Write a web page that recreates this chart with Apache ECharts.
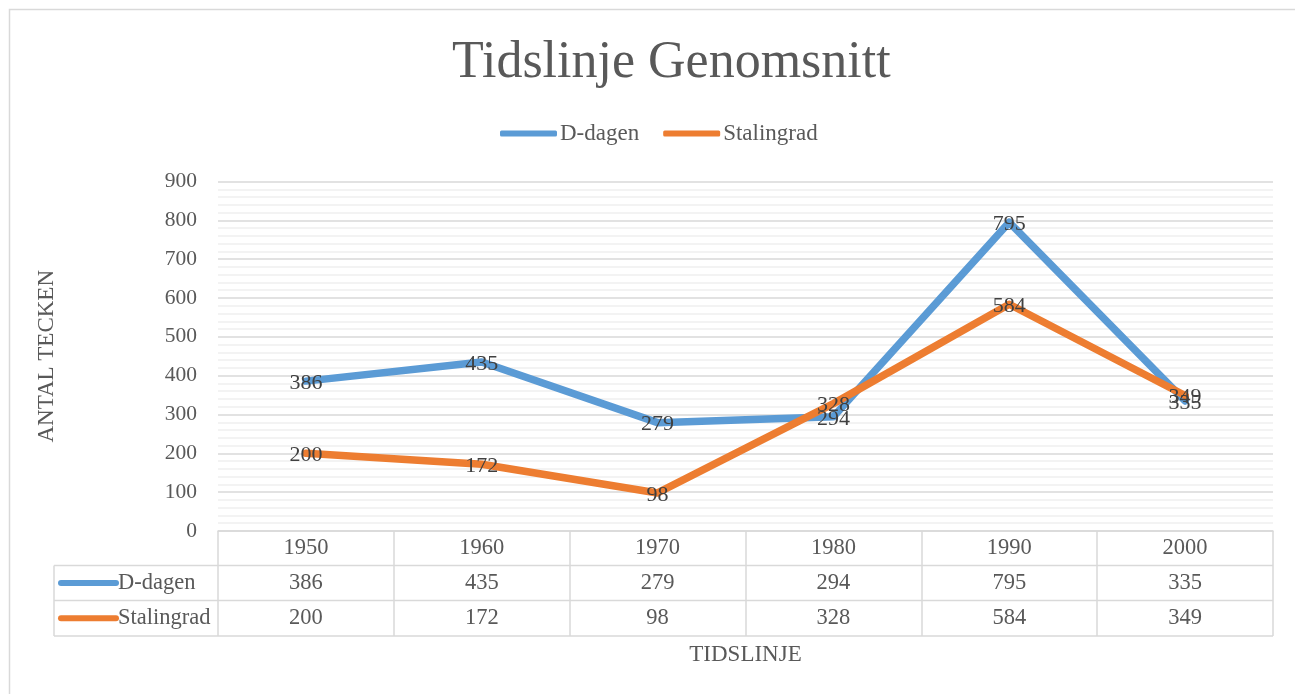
<!DOCTYPE html>
<html>
<head>
<meta charset="utf-8">
<script src="https://cdn.jsdelivr.net/npm/echarts@6/dist/echarts.min.js"></script>
<style>
  html, body { margin: 0; padding: 0; background: #fff; }
  #main { width: 1295px; height: 694px; }
</style>
</head>
<body>
<div id="main"></div>
<script>
// data
const years = ['1950', '1960', '1970', '1980', '1990', '2000'];
const seriesNames = ['D-dagen', 'Stalingrad'];
const dDagen = [386, 435, 279, 294, 795, 335];
const stalingrad = [200, 172, 98, 328, 584, 349];
const colors = ['#5b9bd5', '#ed7d31'];

const font = 'Liberation Serif';
const txt = '#595959';
const border = '#d9d9d9';

let myChart = echarts.init(document.querySelector('#main'));

function makeSeries(name, values, color) {
    return {
        name: name,
        type: 'line',
        data: values,
        symbol: 'circle',
        symbolSize: 1,
        itemStyle: { color: color },
        lineStyle: { width: 7.5, color: color, cap: 'round', join: 'round' },
        label: {
            show: true,
            position: 'inside',
            offset: [0, 2],
            fontFamily: font,
            fontSize: 22,
            color: '#404040'
        },
        emphasis: { disabled: true },
        z: 3
    };
}

// table row lines and row keys
const tableLeft = 54, tableRight = 1273, plotLeft = 218;
const rowY = [531, 565.5, 600.5, 636];
let graphics = [
    { type: 'rect', shape: { x: 9.5, y: 9.5, width: 1300, height: 700 }, style: { fill: null, stroke: border, lineWidth: 1.5 }, silent: true },
    { type: 'line', shape: { x1: tableLeft, y1: rowY[1], x2: tableRight, y2: rowY[1] }, style: { stroke: border, lineWidth: 1.5 } },
    { type: 'line', shape: { x1: tableLeft, y1: rowY[2], x2: tableRight, y2: rowY[2] }, style: { stroke: border, lineWidth: 1.5 } },
    { type: 'line', shape: { x1: tableLeft, y1: rowY[3], x2: tableRight, y2: rowY[3] }, style: { stroke: border, lineWidth: 1.5 } },
    { type: 'line', shape: { x1: tableLeft, y1: rowY[1], x2: tableLeft, y2: rowY[3] }, style: { stroke: border, lineWidth: 1.5 } }
];
seriesNames.forEach(function (name, i) {
    let cy = (rowY[i + 1] + rowY[i + 2]) / 2;
    graphics.push({ type: 'line', shape: { x1: 61, y1: cy, x2: 116, y2: cy }, style: { stroke: colors[i], lineWidth: 6, lineCap: 'round' } });
    graphics.push({ type: 'text', x: 118, y: cy, style: { text: name, fontFamily: font, fontSize: 22.5, fill: txt, verticalAlign: 'middle' } });
});

let option = {
    backgroundColor: '#fff',
    animation: false,
    title: {
        text: 'Tidslinje Genomsnitt',
        left: 447,
        top: 32,
        textStyle: { fontFamily: font, fontSize: 52, fontWeight: 'normal', color: txt }
    },
    legend: {
        data: seriesNames,
        top: 117,
        left: 495,
        icon: 'roundRect',
        itemWidth: 57,
        itemHeight: 6,
        itemGap: 24,
        textStyle: { fontFamily: font, fontSize: 23, color: txt, padding: [0, 0, 0, -2] }
    },
    grid: { left: plotLeft, right: 1295 - tableRight, top: 181.5, bottom: 163, containLabel: false },
    xAxis: {
        type: 'category',
        data: years,
        boundaryGap: true,
        name: 'TIDSLINJE',
        nameLocation: 'middle',
        nameGap: 112,
        nameTextStyle: { fontFamily: font, fontSize: 23, color: txt },
        axisLine: { lineStyle: { color: border, width: 1.5 } },
        axisTick: { show: true, interval: 0, length: 105, lineStyle: { color: border, width: 1.5 } },
        axisLabel: {
            interval: 0,
            margin: 0,
            verticalAlign: 'top',
            formatter: function (value, idx) {
                return '{c|' + value + '}\n{c|' + dDagen[idx] + '}\n{c|' + stalingrad[idx] + '}';
            },
            rich: {
                c: { fontFamily: font, fontSize: 22.5, color: txt, lineHeight: 35, height: 35 }
            }
        }
    },
    yAxis: {
        type: 'value',
        min: 0,
        max: 900,
        interval: 100,
        name: 'ANTAL TECKEN',
        nameLocation: 'middle',
        nameGap: 160,
        nameRotate: 90,
        nameTextStyle: { fontFamily: font, fontSize: 23, color: txt },
        axisLine: { show: false },
        axisTick: { show: false },
        axisLabel: { fontFamily: font, fontSize: 21.5, color: txt, margin: 21 },
        splitLine: { lineStyle: { color: border, width: 1.5 } },
        minorTick: { show: false, splitNumber: 5 },
        minorSplitLine: { show: true, lineStyle: { color: '#f0f0f0', width: 1.5 } }
    },
    series: [
        makeSeries(seriesNames[0], dDagen, colors[0]),
        makeSeries(seriesNames[1], stalingrad, colors[1])
    ],
    graphic: graphics
};
myChart.setOption(option);
</script>
</body>
</html>
